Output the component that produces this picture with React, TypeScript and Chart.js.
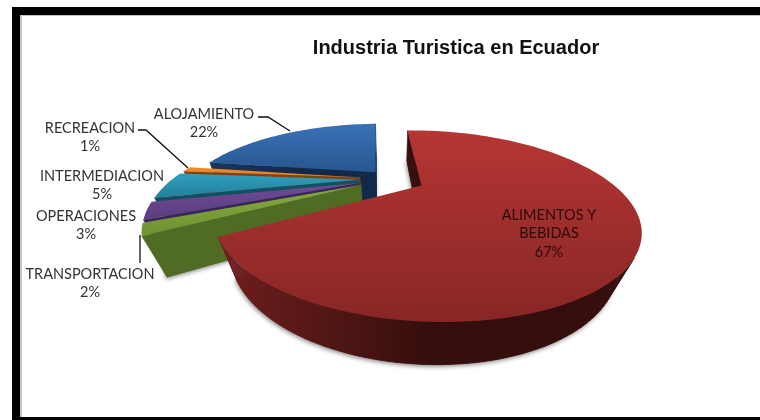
import React, { useEffect, useRef } from "react";
import { Chart, registerables } from "chart.js";

Chart.register(...registerables);

const categories = ["ALIMENTOS Y BEBIDAS", "TRANSPORTACION", "OPERACIONES", "INTERMEDIACION", "RECREACION", "ALOJAMIENTO"];
const percentages = [67, 2, 3, 5, 1, 22];
const chartTitle = "Industria Turistica en Ecuador";

// Styles
const topLight = ["#B53634", "#86A93E", "#704C97", "#2FA0BE", "#F28C2E", "#3A72B8"];
const topDark = ["#872625", "#6F9233", "#5A3C80", "#247F9A", "#E07A20", "#28568F"];
const wallLeft = ["#701F1E", "#4F6B24", "#3A2655", "#134F5F", "#7A4413", "#1A3658"];
const wallRight = ["#340E0D", "#4F6B24", "#3A2655", "#134F5F", "#7A4413", "#13294A"];
const explode = [18, 17.5, 17.5, 17.5, 17, 13];

// 3D view used to project the pie
const view = { x0: 391, y0: 179, a: 186, b: 73, p: 0.41, q: 0.085, c: 39.5 };

const labelLayout = [
  { x: 549, y: 215, lines: ["ALIMENTOS Y", "BEBIDAS"], color: "#2A0A0A" },
  { x: 90, y: 274, lines: ["TRANSPORTACION"], color: "#333333" },
  { x: 86, y: 216, lines: ["OPERACIONES"], color: "#333333" },
  { x: 102, y: 176, lines: ["INTERMEDIACION"], color: "#333333" },
  { x: 90, y: 128, lines: ["RECREACION"], color: "#333333" },
  { x: 204, y: 114, lines: ["ALOJAMIENTO"], color: "#333333" },
];
const leaders = [
  [[258, 117], [268, 117], [290, 131]],
  [[138, 130], [146, 130], [188, 168]],
  [[140, 235], [140, 263]],
];

function project(u: number, v: number, z: number) {
  const w = 1 - view.p * v + view.q * z;
  return { x: view.x0 + (view.a * u) / w, y: view.y0 + (view.b * v + view.c * z) / w };
}

function hex(path: any[], ctx: CanvasRenderingContext2D) {
  ctx.beginPath();
  path.forEach((p, i) => (i ? ctx.lineTo(p.x, p.y) : ctx.moveTo(p.x, p.y)));
  ctx.closePath();
}

const piePlugin = {
  id: "pie3d",
  beforeDraw(chart: any) {
    const { ctx } = chart;
    ctx.save();
    ctx.fillStyle = "#FFFFFF";
    ctx.fillRect(0, 0, 760, 420);
    ctx.fillStyle = "#C4C4C4";
    ctx.fillRect(20, 15, 2, 402);
    ctx.fillRect(20, 15, 740, 1);
    ctx.fillStyle = "#000000";
    ctx.fillRect(12, 7, 748, 8);
    ctx.fillRect(12, 7, 8, 413);
    ctx.fillRect(12, 417, 748, 3);
    ctx.restore();
  },
  beforeDatasetsDraw(chart: any) {
    const { ctx } = chart;
    const meta = chart.getDatasetMeta(0);
    const slices = meta.data.map((el: any, i: number) => {
      const mid = (el.startAngle + el.endAngle) / 2;
      return { el, i, mid };
    });
    slices.sort((s1: any, s2: any) => Math.sin(s1.mid) - Math.sin(s2.mid));
    for (const { el, i, mid } of slices) {
      const e = el.options.offset / 100;
      const ox = e * Math.cos(mid);
      const oy = e * Math.sin(mid);
      const pts: [number, number][] = [[ox, oy]];
      const n = Math.max(2, Math.ceil((el.endAngle - el.startAngle) / 0.03));
      for (let k = 0; k <= n; k++) {
        const t = el.startAngle + ((el.endAngle - el.startAngle) * k) / n;
        pts.push([ox + Math.cos(t), oy + Math.sin(t)]);
      }
      const top = pts.map(([u, v]) => project(u, v, 0));
      const bot = pts.map(([u, v]) => project(u, v, 1));
      const xs = top.concat(bot).map((p) => p.x);
      const ys = top.map((p) => p.y);
      const wallGrad = ctx.createLinearGradient(Math.min(...xs), 0, Math.max(...xs), 0);
      wallGrad.addColorStop(0, wallLeft[i]);
      wallGrad.addColorStop(0.5, wallRight[i]);
      wallGrad.addColorStop(1, wallRight[i]);

      // soft shadow below the solid
      ctx.save();
      ctx.shadowColor = "rgba(0,0,0,0.45)";
      ctx.shadowBlur = 4;
      ctx.shadowOffsetY = 2;
      ctx.shadowOffsetX = -1;
      ctx.fillStyle = wallLeft[i];
      hex(bot, ctx);
      ctx.fill();
      ctx.restore();

      // side walls: only those facing the viewer, far to near
      const quads: any[] = [];
      for (let k = 0; k < pts.length; k++) {
        const m = (k + 1) % pts.length;
        const q = [top[k], top[m], bot[m], bot[k]];
        let area = 0;
        q.forEach((p, j) => {
          const r = q[(j + 1) % 4];
          area += p.x * r.y - r.x * p.y;
        });
        if (area < 0) quads.push({ q, depth: pts[k][1] + pts[m][1] });
      }
      quads.sort((q1, q2) => q1.depth - q2.depth);
      ctx.fillStyle = wallGrad;
      ctx.strokeStyle = wallGrad;
      ctx.lineWidth = 0.6;
      for (const { q } of quads) {
        hex(q, ctx);
        ctx.fill();
        ctx.stroke();
      }

      // top face
      const g = ctx.createLinearGradient(0, Math.min(...ys), 0, Math.max(...ys));
      g.addColorStop(0, topLight[i]);
      g.addColorStop(1, topDark[i]);
      ctx.fillStyle = g;
      hex(top, ctx);
      ctx.fill();
    }
    return false;
  },
  afterDraw(chart: any) {
    const { ctx } = chart;
    ctx.save();
    ctx.strokeStyle = "#111111";
    ctx.lineWidth = 1.3;
    for (const line of leaders) {
      ctx.beginPath();
      line.forEach(([x, y], i) => (i ? ctx.lineTo(x, y) : ctx.moveTo(x, y)));
      ctx.stroke();
    }
    ctx.font = "14.5px Lato";
    ctx.textAlign = "center";
    ctx.textBaseline = "middle";
    percentages.forEach((value, i) => {
      const l = labelLayout[i];
      ctx.fillStyle = l.color;
      [...l.lines, `${value}%`].forEach((t, k) => ctx.fillText(t, l.x, l.y + k * 18.7));
    });
    ctx.restore();
  },
};

export default function App() {
  const ref = useRef<HTMLCanvasElement>(null);
  useEffect(() => {
    const chart = new Chart(ref.current as HTMLCanvasElement, {
      type: "pie",
      data: {
        labels: categories,
        datasets: [{ data: percentages, backgroundColor: topLight, offset: explode, borderWidth: 0 }],
      },
      options: {
        responsive: false,
        animation: false,
        rotation: -2,
        layout: { padding: { left: 152 } },
        plugins: {
          legend: { display: false },
          tooltip: { enabled: false },
          title: {
            display: true,
            text: chartTitle,
            fullSize: false,
            color: "#111111",
            font: { family: "'Liberation Sans'", size: 20, weight: "bold" },
            padding: { top: 36, bottom: 10 },
          },
        },
      },
      plugins: [piePlugin],
    } as any);
    return () => chart.destroy();
  }, []);
  return (
    <canvas
      ref={ref}
      width={760}
      height={420}
      style={{ display: "block", position: "fixed", left: 0, top: 0, width: 760, height: 420 }}
    />
  );
}
